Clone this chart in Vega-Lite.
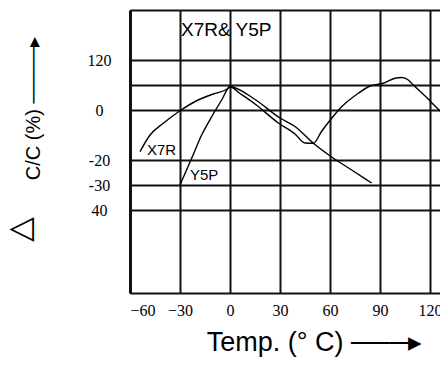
{
  "$schema": "https://vega.github.io/schema/vega-lite/v6.json",
  "autosize": {"type": "none"},
  "padding": {"left": 130, "top": 10, "right": 0, "bottom": 72},
  "width": 310,
  "height": 283,
  "background": "white",
  "config": {
    "view": {"stroke": null},
    "font": "Liberation Sans"
  },
  "datasets": {
    "curves": [
      {"series": "X7R", "t": -54, "v": -16.7},
      {"series": "X7R", "t": -48, "v": -10},
      {"series": "X7R", "t": -40, "v": -5.3},
      {"series": "X7R", "t": -30, "v": -0.3},
      {"series": "X7R", "t": -20, "v": 3.7},
      {"series": "X7R", "t": -10, "v": 6.4},
      {"series": "X7R", "t": -2, "v": 8.3},
      {"series": "X7R", "t": 0, "v": 9.3},
      {"series": "X7R", "t": 6, "v": 6.6},
      {"series": "X7R", "t": 15, "v": 2.4},
      {"series": "X7R", "t": 29, "v": -5.2},
      {"series": "X7R", "t": 39, "v": -9.6},
      {"series": "X7R", "t": 45, "v": -13.2},
      {"series": "X7R", "t": 50, "v": -13.3},
      {"series": "X7R", "t": 55, "v": -8.5},
      {"series": "X7R", "t": 61, "v": -3.3},
      {"series": "X7R", "t": 67, "v": 1.3},
      {"series": "X7R", "t": 77, "v": 6.7},
      {"series": "X7R", "t": 84, "v": 9.6},
      {"series": "X7R", "t": 92, "v": 10.7},
      {"series": "X7R", "t": 99, "v": 12.7},
      {"series": "X7R", "t": 103, "v": 13},
      {"series": "X7R", "t": 107, "v": 12},
      {"series": "X7R", "t": 110, "v": 10},
      {"series": "X7R", "t": 118, "v": 5},
      {"series": "X7R", "t": 125, "v": 0.3},
      {"series": "X7R", "t": 130, "v": -2.5},
      {"series": "Y5P", "t": -30, "v": -30},
      {"series": "Y5P", "t": -23, "v": -19.3},
      {"series": "Y5P", "t": -17, "v": -10},
      {"series": "Y5P", "t": -11, "v": -2.7},
      {"series": "Y5P", "t": -5, "v": 4},
      {"series": "Y5P", "t": 0, "v": 9.3},
      {"series": "Y5P", "t": 15, "v": 4.2},
      {"series": "Y5P", "t": 30, "v": -3.2},
      {"series": "Y5P", "t": 39, "v": -6.6},
      {"series": "Y5P", "t": 50, "v": -13.3},
      {"series": "Y5P", "t": 61, "v": -18.8},
      {"series": "Y5P", "t": 73, "v": -24},
      {"series": "Y5P", "t": 85, "v": -29.2}
    ],
    "notes": [
      {"text": "X7R& Y5P", "t": -29.4, "v": 32, "size": "big"},
      {"text": "X7R", "t": -49.8, "v": -16, "size": "small"},
      {"text": "Y5P", "t": -24, "v": -26, "size": "small"}
    ]
  },
  "layer": [
    {
      "data": {"name": "curves"},
      "mark": {"type": "line", "interpolate": "monotone", "color": "black", "strokeWidth": 1.4, "clip": true},
      "encoding": {
        "x": {
          "field": "t", "type": "quantitative",
          "scale": {"domain": [-60, 126], "nice": false, "zero": false},
          "axis": {
            "values": [-60, -30, 0, 30, 60, 90, 120],
            "grid": true, "gridColor": "#111", "gridWidth": 2,
            "ticks": false,
            "domainColor": "#111", "domainWidth": 2,
            "labelFont": "Liberation Sans Narrow", "labelFontSize": 16, "labelColor": "black",
            "labelPadding": 9,
            "title": "Temp. (° C) ───▸",
            "titleFont": "Liberation Sans", "titleFontSize": 27, "titleFontWeight": "normal", "titleColor": "black",
            "titleX": 184, "titleY": 36
          }
        },
        "y": {
          "field": "v", "type": "quantitative",
          "scale": {"domain": [-73.2, 40], "nice": false, "zero": false},
          "axis": {
            "values": [40, 20, 10, 0, -20, -30, -40],
            "labelExpr": "datum.value == 20 ? '120' : datum.value == 0 ? '0' : datum.value == -20 ? '-20' : datum.value == -30 ? '-30' : datum.value == -40 ? '40' : ''",
            "grid": true, "gridColor": "#111", "gridWidth": 2,
            "ticks": false,
            "domainColor": "#111", "domainWidth": 3,
            "labelFont": "Liberation Sans Narrow", "labelFontSize": 16, "labelColor": "black",
            "labelAlign": "center", "labelPadding": 31,
            "title": "C/C (%) ────▸",
            "titleFont": "Liberation Sans", "titleFontSize": 20, "titleFontWeight": "normal", "titleColor": "black",
            "titleAngle": -90, "titleX": -87, "titleY": 98
          }
        },
        "detail": {"field": "series"}
      }
    },
    {
      "data": {"name": "notes"},
      "mark": {"type": "text", "align": "left", "baseline": "middle", "color": "black", "font": "Liberation Sans"},
      "encoding": {
        "x": {"field": "t", "type": "quantitative"},
        "y": {
          "field": "v", "type": "quantitative",
          "axis": {
            "orient": "left",
            "labels": false, "ticks": false, "domain": false, "grid": false,
            "title": "△",
            "titleFont": "DejaVu Sans", "titleFontSize": 32, "titleFontWeight": "normal", "titleColor": "black",
            "titleAngle": -90, "titleX": -94, "titleY": 219
          }
        },
        "text": {"field": "text"},
        "size": {"field": "size", "type": "nominal", "scale": {"domain": ["big", "small"], "range": [19, 15]}, "legend": null}
      }
    }
  ],
  "resolve": {"axis": {"y": "independent"}}
}
